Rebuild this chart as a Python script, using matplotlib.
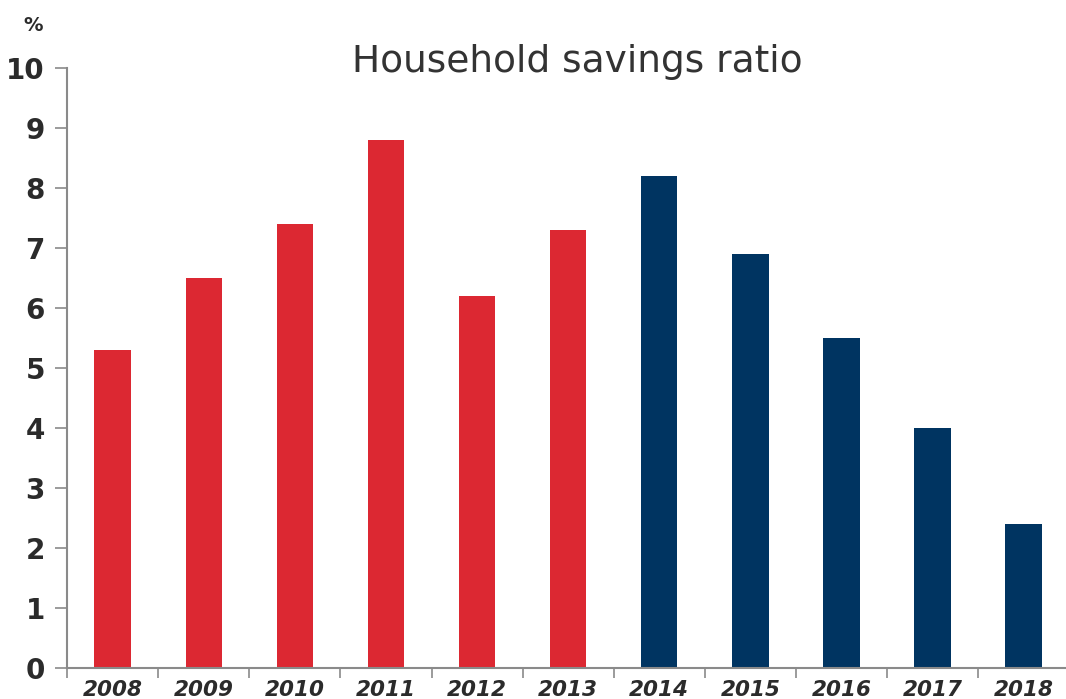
import matplotlib

matplotlib.use("Agg")
import matplotlib.pyplot as plt
import numpy as np

years = ["2008", "2009", "2010", "2011", "2012", "2013",
         "2014", "2015", "2016", "2017", "2018"]
ratio = [5.3, 6.5, 7.4, 8.8, 6.2, 7.3, 8.2, 6.9, 5.5, 4.0, 2.4]
# first six years in red, the rest in navy
n_red = 6

RED = "#dc2832"
NAVY = "#003461"
AXIS = "#8a8a8a"
TEXT = "#2b2b2b"

fig = plt.figure(figsize=(10.66, 6.99), dpi=100)
ax = fig.add_axes([0.063, 0.0443, 0.94, 0.8584])

x = np.arange(len(years))
colors = [RED if i < n_red else NAVY for i in range(len(years))]
ax.bar(x, ratio, width=0.4, color=colors, zorder=2)

ax.set_xlim(-0.5, len(years) - 0.5)
ax.set_ylim(0, 10)

for side in ("top", "right"):
    ax.spines[side].set_visible(False)
for side in ("left", "bottom"):
    ax.spines[side].set_color(AXIS)
    ax.spines[side].set_linewidth(1.5)

# y ticks
ax.set_yticks(range(0, 11))
ax.tick_params(axis="y", length=9, width=1.2, color=AXIS, pad=7)
for lbl in ax.get_yticklabels():
    lbl.set_fontfamily("DejaVu Sans")
    lbl.set_fontweight("heavy")
    lbl.set_fontsize(20)
    lbl.set_color(TEXT)

# x ticks sit on the category boundaries, labels at centres
ax.set_xticks(np.arange(len(years) + 1) - 0.5)
ax.set_xticklabels([])
ax.tick_params(axis="x", length=7, width=1.2, color=AXIS, direction="out")
for xi, yr in zip(x, years):
    ax.text(xi, -0.36, yr, ha="center", va="center",
            fontsize=15.5, fontweight="heavy", fontstyle="italic",
            color=TEXT, family="DejaVu Sans", clip_on=False)

fig.text(0.031, 0.963, "%", ha="center", va="center", fontsize=14,
         fontweight="heavy", color=TEXT)
fig.text(0.542, 0.911, "Household savings ratio", ha="center", va="center",
         fontsize=27, color="#333333", family="DejaVu Sans")

fig.savefig("out.png", dpi=100)
